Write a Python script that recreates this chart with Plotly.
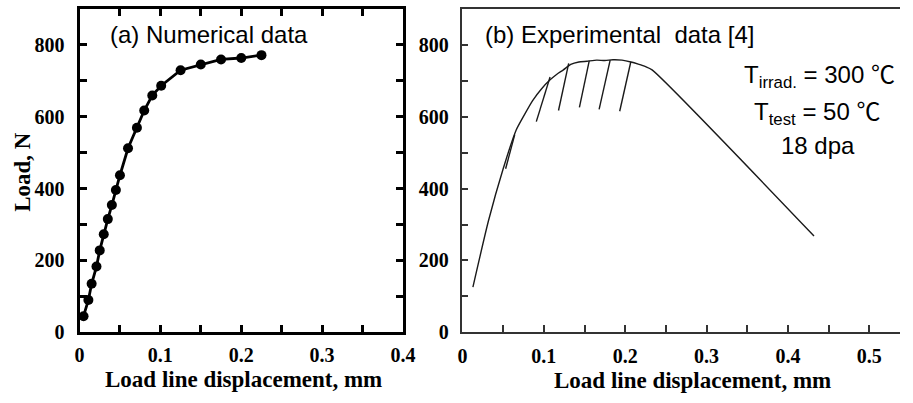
import plotly.graph_objects as go

W, H = 913, 403

# (a) numerical data
num_x = [0.005, 0.011, 0.015, 0.021, 0.025, 0.030, 0.035, 0.040, 0.045, 0.050,
         0.060, 0.071, 0.080, 0.090, 0.101, 0.125, 0.150, 0.175, 0.200, 0.225]
num_y = [45, 90, 135, 183, 228, 273, 315, 354, 396, 437,
         512, 569, 617, 659, 686, 729, 745, 759, 763, 771]

# (b) experimental envelope curve
exp_x = [0.0128, 0.032, 0.050, 0.066, 0.076, 0.086, 0.097, 0.108, 0.116, 0.124, 0.133,
         0.143, 0.153, 0.165, 0.175, 0.185, 0.196, 0.207, 0.216, 0.225, 0.233, 0.432]
exp_y = [126, 311, 455, 563, 605, 644, 677, 703, 718, 730, 745,
         752, 754, 757, 756, 758, 757, 752, 746, 739, 730, 268]

# (b) partial unloading lines: (x_top, y_top, x_bottom, y_bottom)
unl_x_top = [0.0642, 0.1076, 0.1305, 0.1558, 0.1815, 0.2068]
unl_y_top = [550, 710, 748, 756, 757, 752]
unl_x_bot = [0.0530, 0.0907, 0.1180, 0.1437, 0.1679, 0.1932]
unl_y_bot = [455, 586, 617, 626, 620, 615]

x_ticks_a = [0, 0.1, 0.2, 0.3, 0.4]
x_ticks_b = [0, 0.1, 0.2, 0.3, 0.4, 0.5]
x_minor = [0.05, 0.15, 0.25, 0.35, 0.45]
y_ticks = [0, 200, 400, 600, 800]
y_minor = [100, 300, 500, 700]

def labels(vals):
    return ["<b>%g</b>" % v for v in vals]

ux, uy = [], []
for a, b, c, d in zip(unl_x_top, unl_y_top, unl_x_bot, unl_y_bot):
    ux += [a, c, None]
    uy += [b, d, None]

fig = go.Figure()
fig.add_trace(go.Scatter(x=num_x, y=num_y, mode="lines+markers",
                         line=dict(color="black", width=2.8),
                         marker=dict(size=10, color="black"),
                         xaxis="x", yaxis="y", showlegend=False))
fig.add_trace(go.Scatter(x=exp_x, y=exp_y, mode="lines",
                         line=dict(color="#1a1a1a", width=1.4, shape="spline", smoothing=0.6),
                         xaxis="x2", yaxis="y2", showlegend=False))
fig.add_trace(go.Scatter(x=ux, y=uy, mode="lines",
                         line=dict(color="#1a1a1a", width=1.4),
                         xaxis="x2", yaxis="y2", showlegend=False))

tickfont = dict(family="Liberation Serif", size=20, color="black")
ydom = [61.3 / H, 394 / H]

common_a = dict(ticks="inside", ticklen=7, tickwidth=2.5, tickcolor="black",
                showline=True, linewidth=3, linecolor="black", mirror="allticks",
                showgrid=False, zeroline=False, tickfont=tickfont)
common_b = dict(ticks="inside", tickwidth=1.5, tickcolor="#333",
                showline=True, linewidth=1.5, linecolor="#333",
                showgrid=False, zeroline=False, tickfont=tickfont)

fig.update_layout(
    width=W, height=H, autosize=False,
    margin=dict(l=0, r=0, t=0, b=0),
    paper_bgcolor="white", plot_bgcolor="white",
    xaxis=dict(domain=[76 / W, 406 / W], range=[0, 0.4], tickvals=x_ticks_a,
               ticktext=labels(x_ticks_a), anchor="y", ticklabelstandoff=3,
               minor=dict(tickvals=x_minor, ticks="inside", ticklen=7, tickwidth=2.5,
                          tickcolor="black", showgrid=False),
               **common_a),
    yaxis=dict(domain=ydom, range=[0, 900], tickvals=y_ticks, ticktext=labels(y_ticks),
               anchor="x", ticklabelstandoff=8,
               minor=dict(tickvals=y_minor, ticks="inside", ticklen=7, tickwidth=2.5,
                          tickcolor="black", showgrid=False),
               **common_a),
    xaxis2=dict(domain=[466.7 / W, 1.0], range=[0, 0.5377], tickvals=x_ticks_b,
                ticktext=labels(x_ticks_b), anchor="y2", ticklen=8, mirror=True,
                ticklabelstandoff=5,
                minor=dict(tickvals=x_minor, ticks="inside", ticklen=8, tickwidth=1.5,
                           tickcolor="#333", showgrid=False),
                **common_b),
    yaxis2=dict(domain=ydom, range=[0, 900], tickvals=y_ticks, ticktext=labels(y_ticks),
                anchor="x2", ticklen=6, ticklabelstandoff=8,
                minor=dict(tickvals=y_minor, ticks="inside", ticklen=6, tickwidth=1.5,
                           tickcolor="#333", showgrid=False),
                **common_b),
)

serif_b = dict(family="Liberation Serif", size=23, color="black")
sans = dict(family="Liberation Sans", size=24, color="black")
sans2 = dict(family="Liberation Sans", size=24, color="black")
degc = "<span style='font-family:Noto Sans CJK JP'>℃</span>"

ann = [
    dict(text="<b>Load, N</b>", x=18 / W, y=1 - 177 / H, textangle=-90, font=serif_b,
         xanchor="center", yanchor="middle"),
    dict(text="<b>Load line displacement, mm</b>", x=243 / W, y=1 - 390 / H, font=serif_b,
         xanchor="center", yanchor="middle"),
    dict(text="<b>Load line displacement, mm</b>", x=701 / W, y=1 - 391 / H, font=serif_b,
         xanchor="center", yanchor="middle"),
    dict(text="(a) Numerical data", x=105 / W, y=1 - 35 / H, font=sans,
         xanchor="left", yanchor="middle"),
    dict(text="(b) Experimental  data [4]", x=488 / W, y=1 - 35 / H, font=sans,
         xanchor="left", yanchor="middle"),
    dict(text="T<sub>irrad.</sub> = 300 " + degc, x=831 / W, y=1 - 76 / H, font=sans2,
         xanchor="center", yanchor="middle"),
    dict(text="T<sub>test</sub> = 50 " + degc, x=828 / W, y=1 - 114 / H, font=sans2,
         xanchor="center", yanchor="middle"),
    dict(text="18 dpa", x=829 / W, y=1 - 150 / H, font=sans2,
         xanchor="center", yanchor="middle"),
]
for a in ann:
    a.update(xref="paper", yref="paper", showarrow=False)
fig.update_layout(annotations=ann)

fig.write_html("out.html")
